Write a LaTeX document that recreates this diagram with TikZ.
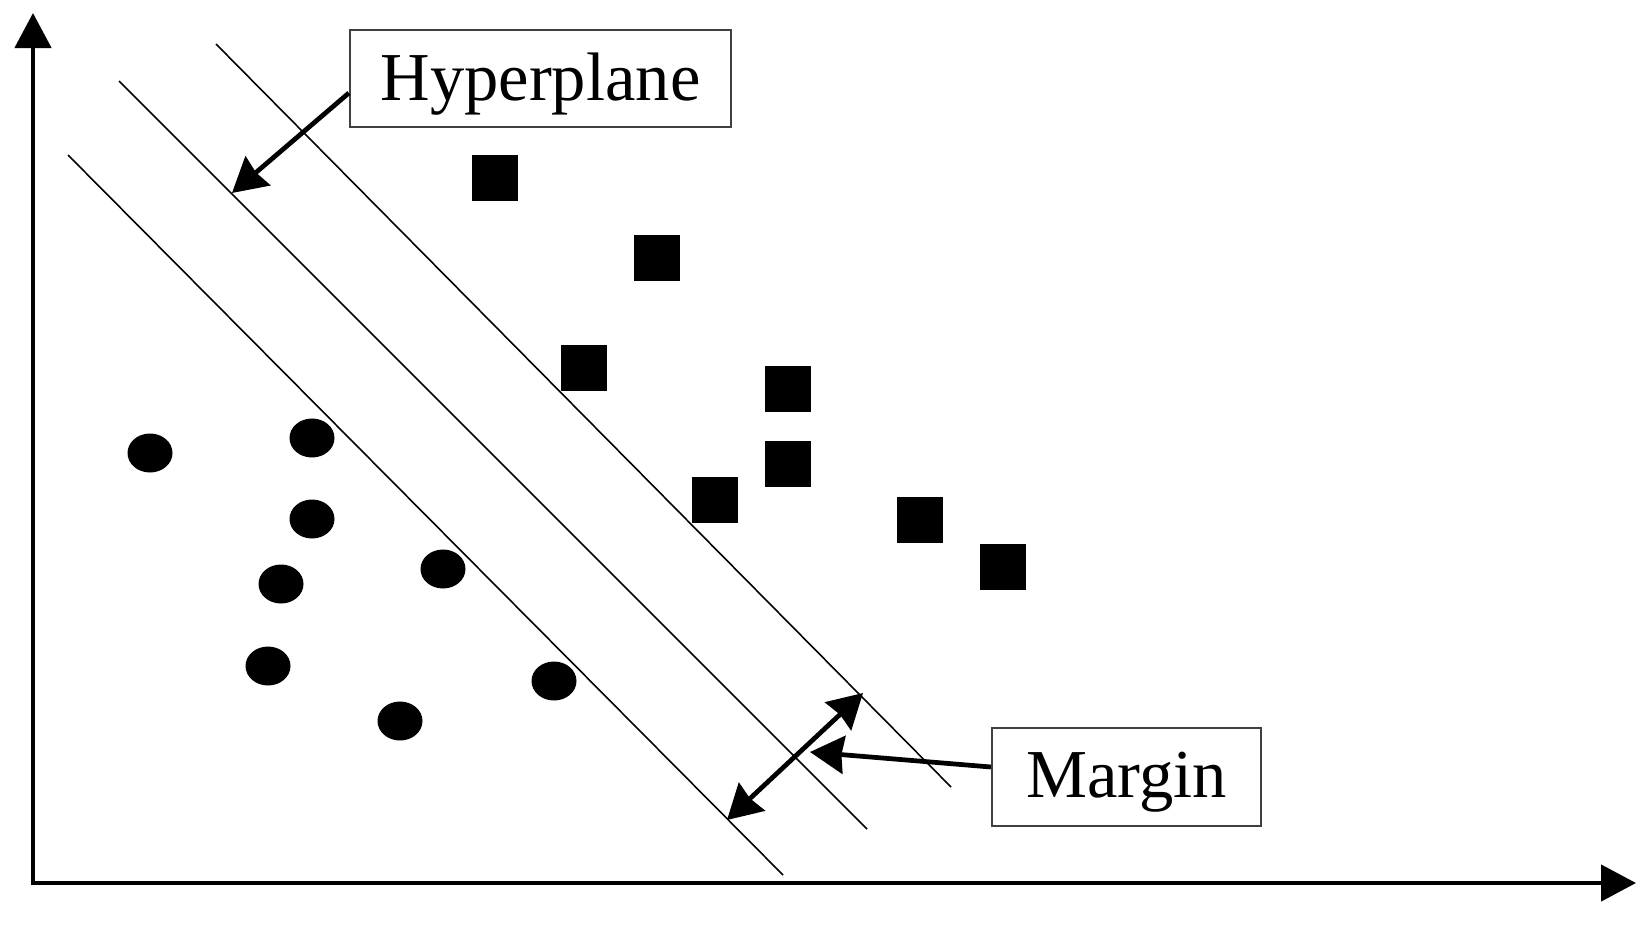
\documentclass[tikz,border=0pt]{standalone}
\usepackage{fontspec}
\setmainfont{Liberation Serif}
\usetikzlibrary{arrows.meta, positioning}

\begin{document}
\begin{tikzpicture}[x=0.01cm, y=-0.01cm,
    axis/.style={line width=1.3pt, {Triangle[length=0.35cm, width=0.36cm]}-{Triangle[length=0.35cm, width=0.36cm]}},
    plane/.style={line width=0.45pt},
    pointer/.style={line width=1.35pt, >={Stealth[length=0.34cm, width=0.38cm, inset=0.025cm]}},
    labelbox/.style={draw=black!75, line width=0.6pt, fill=white, inner sep=0pt, text depth=0cm, font=\fontsize{19.5}{23}\selectfont}]
    \useasboundingbox (0,0) rectangle (1652,924);
    % Axes
    \coordinate (ytop) at (33,13);
    \coordinate (xend) at (1636,883);
    \draw[axis] (ytop) |- (xend);
    % Hyperplane and margin lines
    \coordinate (low1) at (68,155);   \coordinate (low2) at (783,875);
    \coordinate (mid1) at (119,81);   \coordinate (mid2) at (867,829);
    \coordinate (up1) at (216,44);    \coordinate (up2) at (951,787);
    \draw[plane] (low1) -- (low2);
    \draw[plane] (mid1) -- (mid2);
    \draw[plane] (up1) -- (up2);
    % Class 1: squares
    \foreach \px/\py in {495/178, 657/258, 584/368, 788/389, 788/464, 715/500, 920/520, 1003/567}
        \fill (\px-23,\py-23) rectangle ++(46,46);
    % Class 2: dots
    \foreach \px/\py in {150/453, 312/438, 312/519, 281/584, 443/569, 268/666, 400/721, 554/681}
        \fill (\px,\py) ellipse [x radius=22.5, y radius=19.5];
    % Labels
    \node[labelbox, text height=0.43cm, minimum width=3.81cm, minimum height=0.97cm] (hyp) at (540.5,78.5) {Hyperplane};
    \node[labelbox, text height=0.41cm, minimum width=2.69cm, minimum height=0.98cm] (mrg) at (1126.5,777) {Margin};
    \coordinate (hyptip) at (232,193);
    \coordinate (mrgtip) at (810,752);
    \coordinate (gap1) at (727,820);
    \coordinate (gap2) at (863,693);
    \draw[pointer, ->] ([yshift=-0.145cm]hyp.west) -- (hyptip);
    \draw[pointer, <->] (gap1) -- (gap2);
    \draw[pointer, ->] ([yshift=0.1cm]mrg.west) -- (mrgtip);
\end{tikzpicture}
\end{document}
